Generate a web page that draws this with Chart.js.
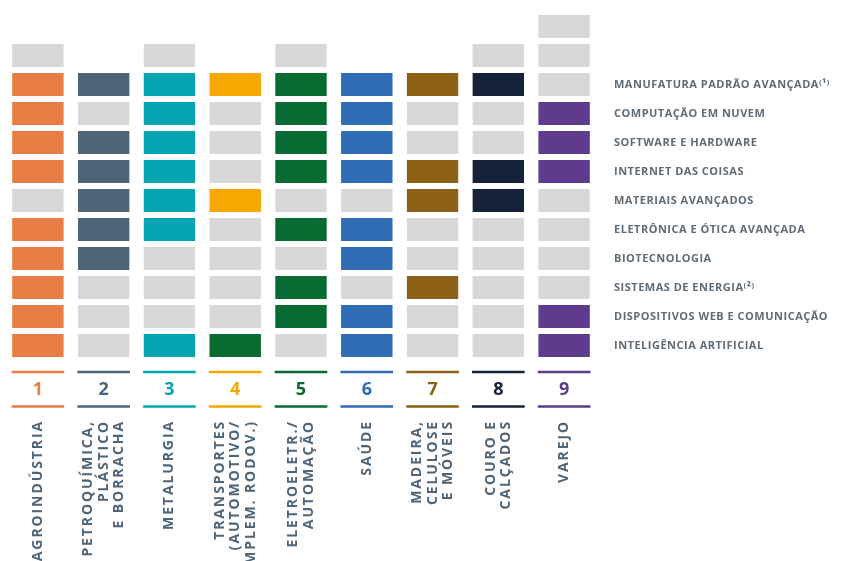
<!DOCTYPE html>
<html>
<head>
<meta charset="utf-8">
<script src="https://cdn.jsdelivr.net/npm/chart.js@4.4.1/dist/chart.umd.min.js"></script>
<style>
  html, body { margin: 0; padding: 0; background: #ffffff; }
  #wrap { width: 844px; height: 561px; position: relative; }
</style>
</head>
<body>
<div id="wrap"><canvas id="c" width="844" height="561"></canvas></div>
<script>
// ---- DATA ----
const sectorNumbers = ['1', '2', '3', '4', '5', '6', '7', '8', '9'];
const sectorNames = [
  ['AGROINDÚSTRIA'],
  ['PETROQUÍMICA,', 'PLÁSTICO', 'E BORRACHA'],
  ['METALURGIA'],
  ['TRANSPORTES', '(AUTOMOTIVO/', 'IMPLEM. RODOV.)'],
  ['ELETROELETR./', 'AUTOMAÇÃO'],
  ['SAÚDE'],
  ['MADEIRA,', 'CELULOSE', 'E MÓVEIS'],
  ['COURO E', 'CALÇADOS'],
  ['VAREJO']
];
const sectorColors = ['#E87D46', '#4E6477', '#04A4B3', '#F6A800', '#0A6B32', '#306DB4', '#8C6016', '#14223A', '#5E3B8D'];
const grayColor = '#D8D8D8';

// rows from top to bottom (two unlabeled rows on top)
const technologies = [
  '',
  '',
  'MANUFATURA PADRÃO AVANÇADA⁽¹⁾',
  'COMPUTAÇÃO EM NUVEM',
  'SOFTWARE E HARDWARE',
  'INTERNET DAS COISAS',
  'MATERIAIS AVANÇADOS',
  'ELETRÔNICA E ÓTICA AVANÇADA',
  'BIOTECNOLOGIA',
  'SISTEMAS DE ENERGIA⁽²⁾',
  'DISPOSITIVOS WEB E COMUNICAÇÃO',
  'INTELIGÊNCIA ARTIFICIAL'
];

// cell code per sector: null = no cell, 0 = gray, k = colour of sector k
const rowTop2   = [null, null, null, null, null, null, null, null, 0];
const rowTop1   = [0, null, 0, null, 0, null, null, 0, 0];
const rowManuf  = [1, 2, 3, 4, 5, 6, 7, 8, 0];
const rowCloud  = [1, 0, 3, 0, 5, 6, 0, 0, 9];
const rowSoft   = [1, 2, 3, 0, 5, 6, 0, 0, 9];
const rowIot    = [1, 2, 3, 0, 5, 6, 7, 8, 9];
const rowMater  = [0, 2, 3, 4, 0, 0, 7, 8, 0];
const rowElet   = [1, 2, 3, 0, 5, 6, 0, 0, 0];
const rowBio    = [1, 2, 0, 0, 0, 6, 0, 0, 0];
const rowEnerg  = [1, 0, 0, 0, 5, 0, 7, 0, 0];
const rowWeb    = [1, 0, 0, 0, 5, 6, 0, 0, 9];
const rowIA     = [1, 0, 3, 5, 0, 6, 0, 0, 9];

const matrixRows = [rowTop2, rowTop1, rowManuf, rowCloud, rowSoft, rowIot, rowMater, rowElet, rowBio, rowEnerg, rowWeb, rowIA];

// ---- BUILD ----
const half = 0.414;
const datasets = matrixRows.map((row, r) => ({
  label: technologies[r] || ('extra ' + r),
  data: row.map(v => v === null ? null : [r - half, r + half]),
  backgroundColor: row.map(v => v === null ? 'rgba(0,0,0,0)' : (v === 0 ? grayColor : sectorColors[v - 1])),
  borderColor: 'rgba(255,255,255,0.5)',
  borderWidth: 0.6,
  borderSkipped: false,
  grouped: false,
  categoryPercentage: 0.8,
  barPercentage: 1.0
}));

const FONT = "'Open Sans', 'Noto Sans', sans-serif";

const bottomPlugin = {
  id: 'bottomLabels',
  afterDraw(chart) {
    const ctx = chart.ctx;
    const xs = chart.scales.x;
    const base = chart.chartArea.bottom;
    const colW = xs.width / sectorNumbers.length * 0.8;
    ctx.save();
    sectorNumbers.forEach((num, i) => {
      const x = xs.getPixelForValue(i);
      const col = sectorColors[i];
      ctx.strokeStyle = col;
      ctx.lineWidth = 2.4;
      ctx.beginPath();
      ctx.moveTo(x - colW / 2, base + 12); ctx.lineTo(x + colW / 2, base + 12);
      ctx.moveTo(x - colW / 2, base + 46.5); ctx.lineTo(x + colW / 2, base + 46.5);
      ctx.stroke();
      ctx.fillStyle = col;
      ctx.font = "bold 18px " + FONT;
      ctx.textAlign = 'center';
      ctx.textBaseline = 'middle';
      ctx.fillText(num, x, base + 30);

      // rotated names
      const lines = sectorNames[i];
      const lh = 15.5;
      ctx.save();
      ctx.translate(x, base + 60);
      ctx.rotate(-Math.PI / 2);
      ctx.fillStyle = '#4F6578';
      ctx.font = "bold 14px " + FONT;
      try { ctx.letterSpacing = '1.9px'; } catch (e) {}
      ctx.textAlign = 'right';
      ctx.textBaseline = 'middle';
      const off0 = -(lines.length - 1) * lh / 2;
      lines.forEach((ln, k) => {
        ctx.fillText(ln, 0, off0 + k * lh);
      });
      ctx.restore();
    });
    ctx.restore();
  }
};

const spacingPlugin = {
  id: 'tickSpacing',
  beforeDraw(chart) { try { chart.ctx.letterSpacing = '0.5px'; } catch (e) {} },
  afterDraw(chart) { try { chart.ctx.letterSpacing = '0px'; } catch (e) {} }
};

new Chart(document.getElementById('c'), {
  type: 'bar',
  data: { labels: sectorNumbers, datasets },
  options: {
    responsive: false,
    animation: false,
    layout: { padding: { left: 5, top: 12, bottom: 201, right: 0 } },
    plugins: { legend: { display: false }, tooltip: { enabled: false } },
    scales: {
      x: { type: 'category', display: false, offset: true, grid: { display: false } },
      y: {
        type: 'linear',
        position: 'right',
        reverse: true,
        min: -0.5,
        max: technologies.length - 0.5,
        grid: { display: false },
        border: { display: false },
        afterBuildTicks: axis => { axis.ticks = technologies.map((t, i) => ({ value: i })); },
        afterFit: axis => { axis.width = 247; axis.paddingTop = 0; axis.paddingBottom = 0; },
        ticks: {
          autoSkip: false,
          padding: 9,
          color: '#5F6B75',
          font: { family: FONT, size: 11, weight: 'bold' },
          callback: (v) => technologies[v] || ''
        }
      }
    }
  },
  plugins: [spacingPlugin, bottomPlugin]
});
</script>
</body>
</html>
